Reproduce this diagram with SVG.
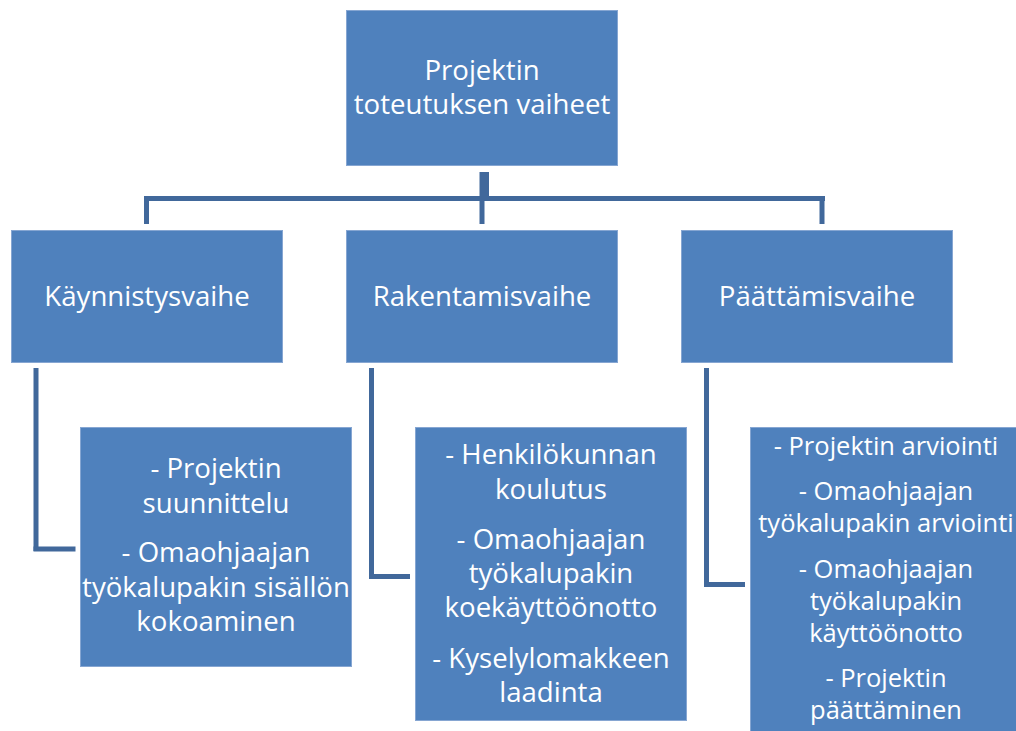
<svg xmlns="http://www.w3.org/2000/svg" width="1016" height="731" viewBox="0 0 1016 731">
<style>
.box{fill:#4F81BD;stroke:#86A6D2;stroke-width:1}
.t{font-family:"Open Sans","DejaVu Sans",sans-serif;font-size:27.6px;fill:#ffffff;text-anchor:middle}
.s{font-size:25.5px}
.c{fill:#41689B}
</style>
<rect width="1016" height="731" fill="#ffffff"/>
<g id="connectors">
<rect class="c" x="479.5" y="172" width="9.5" height="25"/>
<rect class="c" x="144" y="196" width="681" height="5"/>
<rect class="c" x="144" y="196" width="5" height="28"/>
<rect class="c" x="819.5" y="196" width="5" height="28"/>
<rect class="c" x="479.5" y="199" width="5" height="25"/>
<rect class="c" x="33.5" y="368" width="5" height="183"/>
<rect class="c" x="33.5" y="546.5" width="42" height="5"/>
<rect class="c" x="369" y="368" width="5" height="211"/>
<rect class="c" x="369" y="574" width="41" height="5"/>
<rect class="c" x="704" y="368" width="5" height="219"/>
<rect class="c" x="704" y="582" width="41" height="5"/>
</g>
<g id="root">
<rect class="box" x="346.5" y="10.5" width="271" height="155"/>
<text class="t" x="482" y="80">Projektin</text>
<text class="t" x="482" y="114">toteutuksen vaiheet</text>
</g>
<g id="kaynnistys">
<rect class="box" x="11.5" y="230.5" width="271" height="132"/>
<text class="t" x="147" y="306">Käynnistysvaihe</text>
</g>
<g id="rakentamis">
<rect class="box" x="346.5" y="230.5" width="271" height="132"/>
<text class="t" x="482" y="306">Rakentamisvaihe</text>
</g>
<g id="paattamis">
<rect class="box" x="681.5" y="230.5" width="271" height="132"/>
<text class="t" x="817" y="306">Päättämisvaihe</text>
</g>
<g id="kaynnistys-items">
<rect class="box" x="80.5" y="427.5" width="271" height="239"/>
<text class="t" x="216" y="478">- Projektin</text>
<text class="t" x="216" y="513">suunnittelu</text>
<text class="t" x="216" y="562">- Omaohjaajan</text>
<text class="t" x="216" y="597">työkalupakin sisällön</text>
<text class="t" x="216" y="631">kokoaminen</text>
</g>
<g id="rakentamis-items">
<rect class="box" x="415.5" y="427.5" width="271" height="293"/>
<text class="t" x="551" y="464">- Henkilökunnan</text>
<text class="t" x="551" y="499">koulutus</text>
<text class="t" x="551" y="549">- Omaohjaajan</text>
<text class="t" x="551" y="583">työkalupakin</text>
<text class="t" x="551" y="617">koekäyttöönotto</text>
<text class="t" x="551" y="668">- Kyselylomakkeen</text>
<text class="t" x="551" y="702">laadinta</text>
</g>
<g id="paattamis-items">
<rect class="box" x="750.5" y="427.5" width="271" height="310"/>
<text class="t s" x="886" y="455">- Projektin arviointi</text>
<text class="t s" x="886" y="500">- Omaohjaajan</text>
<text class="t s" x="886" y="532">työkalupakin arviointi</text>
<text class="t s" x="886" y="578">- Omaohjaajan</text>
<text class="t s" x="886" y="610">työkalupakin</text>
<text class="t s" x="886" y="642">käyttöönotto</text>
<text class="t s" x="886" y="687">- Projektin</text>
<text class="t s" x="886" y="719">päättäminen</text>
</g>
</svg>
